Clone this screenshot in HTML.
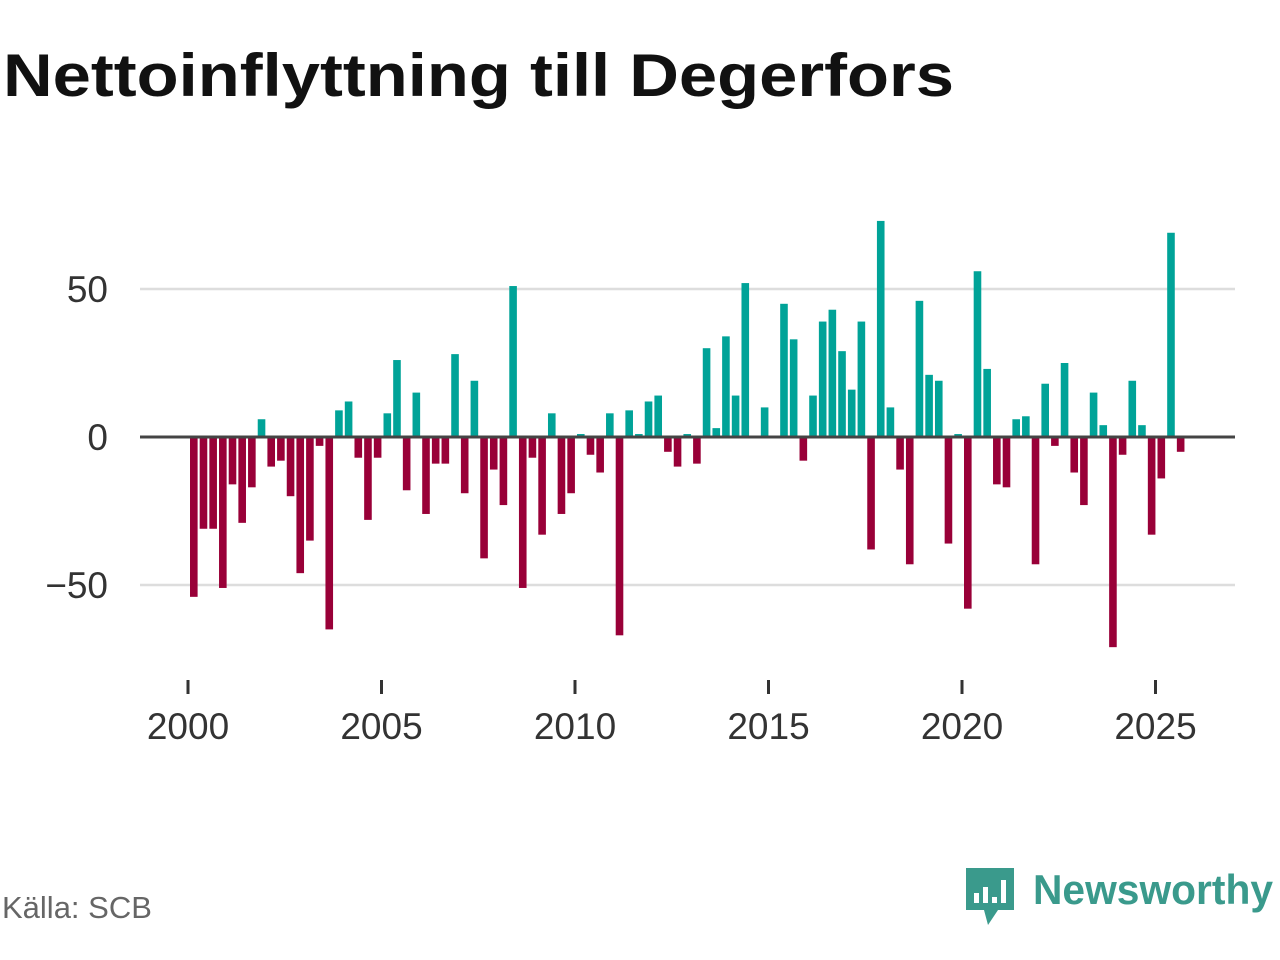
<!DOCTYPE html>
<html><head><meta charset="utf-8"><style>
html,body{margin:0;padding:0;background:#fff;width:1280px;height:960px;overflow:hidden}
svg{display:block}
</style></head><body>
<svg id="chart" width="1280" height="960" xmlns="http://www.w3.org/2000/svg">
<text x="3" y="96" font-family="Liberation Sans, sans-serif" font-weight="bold" font-size="60" fill="#111" textLength="951" lengthAdjust="spacingAndGlyphs">Nettoinflyttning till Degerfors</text>
<g id="grid"></g>
<g id="bars"></g>
<g id="axes"></g>
<text x="2" y="918" font-family="Liberation Sans, sans-serif" font-size="31" fill="#666">Källa: SCB</text>
<g>
<path d="M966 868 H1014 V910 H998 L988 925 L984 910 H966 Z" fill="#3a9a8c"/>
<rect x="974" y="893" width="5" height="10" fill="#fff"/>
<rect x="983" y="887" width="5" height="16" fill="#fff"/>
<rect x="992" y="897" width="5" height="6" fill="#fff"/>
<rect x="1001" y="880" width="5" height="23" fill="#fff"/>
<text x="1033" y="904" font-family="Liberation Sans, sans-serif" font-weight="bold" font-size="42" fill="#3a9a8c" textLength="240" lengthAdjust="spacingAndGlyphs">Newsworthy</text>
</g>
</svg>
<script>
const startYear = 2000;
const values = [-54,-31,-31,-51,-16,-29,-17,6,-10,-8,-20,-46,-35,-3,-65,9,12,-7,-28,-7,8,26,-18,15,-26,-9,-9,28,-19,19,-41,-11,-23,51,-51,-7,-33,8,-26,-19,1,-6,-12,8,-67,9,1,12,14,-5,-10,1,-9,30,3,34,14,52,0,10,0,45,33,-8,14,39,43,29,16,39,-38,73,10,-11,-43,46,21,19,-36,1,-58,56,23,-16,-17,6,7,-43,18,-3,25,-12,-23,15,4,-71,-6,19,4,-33,-14,69,-5];
const yTicks = [50,0,-50];
const yTickLabels = ["50","0","\u221250"];
const xTicks = [2000,2005,2010,2015,2020,2025];
const xTickLabels = ["2000","2005","2010","2015","2020","2025"];

const NS="http://www.w3.org/2000/svg";
function y(v){return 437 - v*2.96;}
function x(yr){return 188 + (yr-2000)*38.7;}
function mk(tag,attrs,parent){const e=document.createElementNS(NS,tag);for(const k in attrs)e.setAttribute(k,attrs[k]);parent.appendChild(e);return e;}
const grid=document.getElementById('grid'),bars=document.getElementById('bars'),axes=document.getElementById('axes');
yTicks.forEach((t,i)=>{
  if(t!==0){const l=mk('line',{x1:140,x2:1235,y1:y(t),y2:y(t),stroke:'#dddddd','stroke-width':2.5},grid);
  
  }
  const tx=mk('text',{x:108,y:y(t)+13,'text-anchor':'end','font-family':'Liberation Sans, sans-serif','font-size':37,fill:'#333'},axes);
  tx.textContent=yTickLabels[i];
  
  
});
values.forEach((v,i)=>{
  const cx=x(startYear+(i+0.6)/4);
  const top=Math.min(y(v),y(0)),h=Math.abs(y(v)-y(0));
  const r=mk('rect',{x:cx-3.8,y:top,width:7.6,height:Math.max(h,0.5),fill:v>=0?'#00a398':'#990038'},bars);
  
  
});
const zl=mk('line',{x1:140,x2:1235,y1:y(0),y2:y(0),stroke:'#444','stroke-width':3},axes);


xTicks.forEach((t,i)=>{
  const tk=mk('line',{x1:x(t),x2:x(t),y1:680,y2:694,stroke:'#333','stroke-width':3},axes);
  
  
  const tx=mk('text',{x:x(t),y:739,'text-anchor':'middle','font-family':'Liberation Sans, sans-serif','font-size':37,fill:'#333'},axes);
  tx.textContent=xTickLabels[i];
  
  
});
</script>
</body></html>
